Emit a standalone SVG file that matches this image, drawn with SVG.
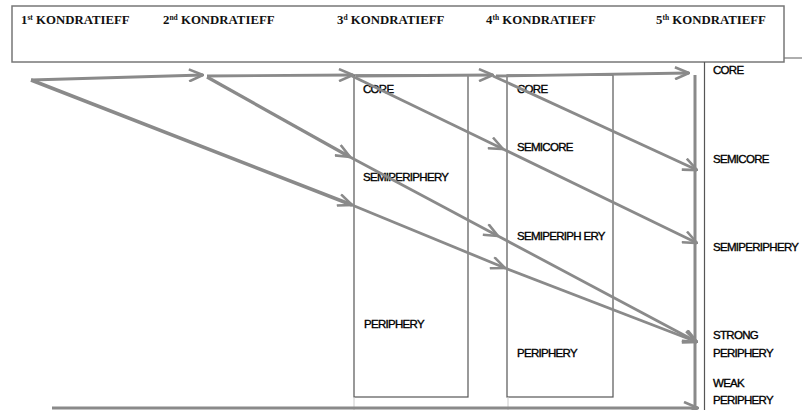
<svg xmlns="http://www.w3.org/2000/svg" width="802" height="410" viewBox="0 0 802 410">
<style>
.hdr{font-family:"Liberation Serif","Times New Roman",serif;font-weight:bold;font-size:12.8px;fill:#111}
.sup{font-size:7.5px}
.lbl{font-family:"Liberation Sans",Arial,sans-serif;font-size:11.5px;letter-spacing:-0.7px;fill:#000;stroke:#000;stroke-width:0.35}
.box{fill:none;stroke:#555;stroke-width:1.2}
.arr{fill:none;stroke:#8a8a8a;stroke-width:2.8;marker-end:url(#ah)}
.plain{fill:none;stroke:#8a8a8a;stroke-width:3}
</style>
<defs>
<marker id="ah" viewBox="0 0 16 14" refX="15" refY="7" markerWidth="16" markerHeight="14" markerUnits="userSpaceOnUse" orient="auto">
<path d="M1,1 L15,7 L1,13" fill="none" stroke="#8a8a8a" stroke-width="2.6"/>
</marker>
</defs>
<rect width="802" height="410" fill="#fff"/>
<g id="header">
<rect x="12" y="6" width="772" height="56" fill="none" stroke="#777" stroke-width="1.5"/>
<line x1="784" y1="58" x2="802" y2="58" stroke="#777" stroke-width="1.2"/>
<text class="hdr" x="21" y="24">1<tspan class="sup" dy="-4">st</tspan><tspan dy="4"> KONDRATIEFF</tspan></text>
<text class="hdr" x="163" y="24">2<tspan class="sup" dy="-4">nd</tspan><tspan dy="4"> KONDRATIEFF</tspan></text>
<text class="hdr" x="337" y="24">3<tspan class="sup" dy="-4">d</tspan><tspan dy="4"> KONDRATIEFF</tspan></text>
<text class="hdr" x="486" y="24">4<tspan class="sup" dy="-4">th</tspan><tspan dy="4"> KONDRATIEFF</tspan></text>
<text class="hdr" x="656" y="24">5<tspan class="sup" dy="-4">th</tspan><tspan dy="4"> KONDRATIEFF</tspan></text>
</g>
<g id="k3">
<rect class="box" x="354" y="75" width="114" height="322"/>
<line x1="354" y1="397" x2="354" y2="410" stroke="#ccc" stroke-width="1"/>
<text class="lbl" x="363" y="93">CORE</text>
<text class="lbl" x="363" y="181">SEMIPERIPHERY</text>
<text class="lbl" x="364" y="328">PERIPHERY</text>
</g>
<g id="k4">
<rect class="box" x="507" y="75" width="106" height="322"/>
<line x1="508" y1="397" x2="508" y2="410" stroke="#ccc" stroke-width="1"/>
<text class="lbl" x="517" y="93">CORE</text>
<text class="lbl" x="517" y="151">SEMICORE</text>
<text class="lbl" x="517" y="240">SEMIPERIPH ERY</text>
<text class="lbl" x="517" y="357">PERIPHERY</text>
</g>
<g id="k5">
<line x1="704.5" y1="62" x2="704.5" y2="410" stroke="#555" stroke-width="1.2"/>
<text class="lbl" x="713" y="74">CORE</text>
<text class="lbl" x="713" y="163">SEMICORE</text>
<text class="lbl" x="713" y="251">SEMIPERIPHERY</text>
<text class="lbl" x="713" y="339">STRONG</text>
<text class="lbl" x="713" y="357">PERIPHERY</text>
<text class="lbl" x="713" y="387">WEAK</text>
<text class="lbl" x="713" y="404">PERIPHERY</text>
</g>
<g id="connectors">
<line class="plain" x1="695" y1="75" x2="695" y2="410"/>
<line class="arr" x1="31" y1="80" x2="203" y2="75"/>
<line class="arr" x1="207" y1="76" x2="353" y2="75"/>
<line class="arr" x1="356" y1="76" x2="493" y2="75"/>
<line class="arr" x1="496" y1="76" x2="689" y2="73"/>
<line class="arr" x1="31" y1="80" x2="352" y2="205" style="stroke-width:3.5"/>
<line class="arr" x1="352" y1="205" x2="505" y2="268"/>
<line class="arr" x1="505" y1="268" x2="697" y2="342"/>
<line class="arr" x1="207" y1="77" x2="350" y2="157" style="stroke-width:3.2"/>
<line class="arr" x1="350" y1="157" x2="498" y2="236"/>
<line class="arr" x1="498" y1="236" x2="697" y2="342"/>
<line class="arr" x1="352" y1="76" x2="503" y2="149"/>
<line class="arr" x1="503" y1="149" x2="697" y2="243"/>
<line class="arr" x1="493" y1="76" x2="697" y2="170"/>
<line class="arr" x1="52" y1="408" x2="698" y2="408"/>
</g>
</svg>
